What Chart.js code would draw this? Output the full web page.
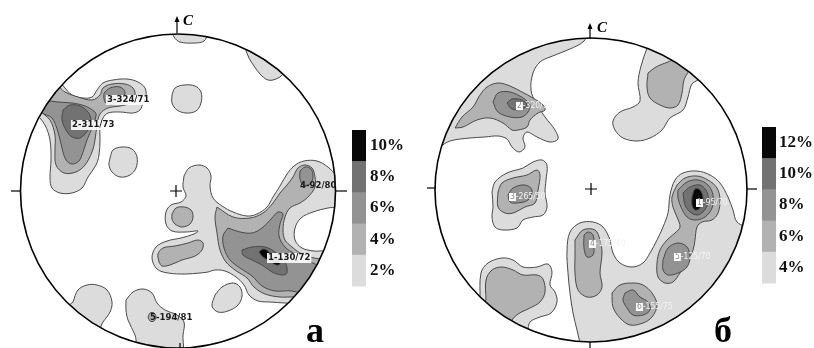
<!DOCTYPE html>
<html><head><meta charset="utf-8">
<script src="https://cdn.jsdelivr.net/npm/chart.js@4.4.1/dist/chart.umd.min.js"></script>
<style>html,body{margin:0;padding:0;background:#fff;}canvas{display:block;}</style>
</head><body>
<canvas id="c" width="814" height="348"></canvas>
<script>
// ---------- DATA (traced contour polygons, reference-pixel units: x right, y down) ----------
// Panel a: density levels 2%,4%,6%,8%,10%
const a_2pct = [
  [172,30, 174,37, 180,42, 195,43, 204,41, 207,34, 200,28],
  [245,48, 249,58, 254,66, 260,74, 268,80, 276,79, 283,74, 290,60, 265,45],
  [172,95, 175,88, 184,85, 195,86, 201,92, 201,103, 196,111, 186,113, 177,110, 172,103],
  [110,158, 113,150, 122,147, 132,149, 137,157, 136,168, 130,175, 120,177, 112,172, 109,165],
  [50,75, 58,80, 65,88, 72,95, 83,98, 92,97, 97,90, 103,83, 113,80, 127,79, 138,82, 145,88, 146,97, 143,103, 140,110, 133,113, 120,112, 108,113, 103,118, 100,128, 100,140, 99,155, 96,165, 88,177, 82,188, 72,193, 60,193, 52,188, 50,178, 51,160, 50,140, 45,125, 35,110, 35,90],
  [184,176, 189,168, 199,165, 207,168, 211,176, 210,186, 213,198, 222,206, 233,212, 247,216, 257,214, 267,207, 273,197, 280,186, 287,174, 294,166, 304,161, 317,161, 328,167, 336,175, 345,185, 345,205, 328,208, 313,212, 301,218, 295,228, 295,240, 302,248, 314,251, 330,252, 345,270, 325,305, 285,303, 270,302, 258,301, 249,295, 244,285, 236,277, 225,271, 215,270, 208,272, 200,273, 185,274, 168,273, 157,269, 152,258, 156,247, 167,241, 181,238, 194,234, 198,231, 186,232, 172,231, 166,224, 166,212, 171,205, 181,202, 186,196, 183,187],
  [215,295, 222,287, 233,283, 240,287, 242,296, 238,305, 228,311, 218,312, 212,306],
  [73,302, 78,290, 87,285, 97,285, 107,290, 112,302, 110,312, 103,322, 95,335, 65,310],
  [126,300, 133,292, 143,289, 152,293, 157,303, 165,310, 177,315, 184,322, 183,335, 181,352, 140,352, 135,335, 128,320, 126,310]
];
const a_4pct = [
  [38,92, 55,85, 65,92, 78,97, 92,100, 100,95, 103,88, 112,84, 125,84, 133,88, 135,95, 130,103, 120,106, 108,108, 100,114, 97,125, 95,140, 92,152, 85,165, 76,172, 64,173, 56,165, 55,150, 55,135, 50,120, 40,110],
  [172,214, 176,208, 184,207, 191,210, 193,217, 190,224, 182,227, 175,224, 172,219],
  [159,262, 158,254, 163,248, 175,246, 188,243, 198,240, 203,243, 202,250, 195,256, 182,260, 170,265, 162,266],
  [217,207, 233,217, 250,218, 263,213, 273,203, 280,193, 287,185, 293,177, 298,168, 305,165, 312,168, 315,177, 315,187, 308,197, 300,203, 290,208, 285,217, 283,230, 285,240, 292,247, 300,253, 310,257, 320,259, 340,262, 330,300, 295,297, 280,297, 265,294, 254,287, 247,278, 235,270, 226,262, 220,250, 217,233, 215,217],
  [148,317, 150,313, 154,313, 156,317, 154,321, 150,321]
];
const a_6pct = [
  [44,100, 58,102, 72,103, 85,106, 95,112, 96,116, 92,128, 87,140, 83,152, 79,161, 72,164, 66,160, 62,148, 58,132, 52,118, 42,112],
  [104,93, 110,88, 120,87, 125,92, 122,99, 115,104, 107,104, 104,99],
  [228,228, 240,232, 252,233, 262,228, 272,218, 278,212, 283,214, 280,224, 279,236, 285,247, 295,254, 305,259, 318,265, 340,268, 330,300, 292,291, 275,291, 262,286, 252,276, 240,268, 230,260, 224,248, 223,236],
  [300,171, 305,167, 311,169, 313,177, 310,184, 303,185, 300,179]
];
const a_8pct = [
  [63,110, 70,105, 80,106, 88,112, 91,120, 89,128, 85,134, 80,138, 72,137, 66,130, 62,120],
  [242,250, 252,247, 265,247, 275,252, 285,262, 287,273, 282,275, 272,272, 262,265, 252,260, 243,255]
];
const a_10pct = [
  [259,252, 263,249, 268,251, 272,256, 278,260, 280,264, 276,265, 270,261, 263,257]
];
// Panel б: density levels 4%,6%,8%,10%,12%
const b_4pct = [
  [590,32, 583,42, 570,49, 550,57, 540,62, 533,73, 531,90, 536,103, 545,117, 555,130, 558,139, 550,142, 537,137, 527,132, 523,138, 525,147, 519,152, 512,147, 507,139, 498,136, 485,137, 470,138, 450,141, 430,150, 425,100, 480,40, 540,28],
  [647,48, 641,66, 638,83, 640,101, 633,107, 620,112, 613,121, 615,130, 623,138, 637,141, 650,138, 662,130, 670,118, 683,110, 688,97, 692,84, 702,76, 665,38],
  [492,192, 495,182, 507,173, 523,168, 533,162, 542,160, 547,165, 546,180, 545,193, 547,207, 543,215, 533,217, 523,220, 517,228, 503,230, 495,227, 492,217, 493,207],
  [480,300, 481,273, 488,263, 502,258, 513,260, 523,267, 537,267, 548,264, 552,272, 550,285, 555,292, 557,302, 551,313, 540,317, 530,322, 527,332, 515,350, 465,310],
  [582,352, 577,330, 573,313, 570,293, 568,273, 567,250, 570,232, 580,223, 593,222, 603,227, 610,240, 613,253, 620,263, 632,267, 643,263, 650,253, 657,240, 663,227, 668,213, 670,195, 675,180, 683,173, 697,171, 710,175, 720,183, 728,197, 733,210, 737,222, 752,232, 765,300, 650,365]
];
const b_6pct = [
  [455,128, 462,117, 473,107, 480,95, 487,87, 498,83, 510,86, 522,92, 533,98, 543,105, 545,110, 538,113, 530,120, 527,127, 518,130, 512,130, 503,123, 490,118, 477,120, 463,127],
  [648,73, 656,67, 668,62, 680,58, 690,66, 684,80, 682,93, 678,105, 670,108, 660,105, 650,98, 647,87],
  [498,192, 502,183, 513,178, 527,175, 537,170, 540,175, 538,190, 535,203, 525,207, 513,213, 505,213, 498,207],
  [486,300, 486,280, 492,270, 502,267, 513,270, 523,275, 537,275, 543,279, 545,292, 540,302, 530,308, 518,314, 512,320, 505,335, 475,312],
  [575,240, 583,230, 595,230, 600,240, 602,253, 600,273, 602,287, 597,295, 587,297, 578,290, 575,273, 575,257],
  [677,185, 685,178, 697,176, 708,180, 717,188, 720,200, 718,213, 712,220, 702,222, 697,227, 695,240, 693,250, 687,263, 680,273, 673,282, 665,283, 658,277, 657,263, 660,250, 667,240, 675,233, 680,227, 677,217, 673,207, 672,197],
  [612,293, 620,285, 633,283, 643,285, 652,293, 657,305, 652,317, 643,323, 630,325, 620,318, 613,307]
];
const b_8pct = [
  [493,102, 498,93, 510,92, 523,98, 530,105, 528,112, 522,117, 510,117, 498,112],
  [508,195, 513,188, 525,185, 532,190, 528,200, 517,203, 510,202],
  [584,235, 588,232, 593,235, 594,247, 593,255, 587,257, 584,248],
  [678,190, 687,182, 698,180, 708,185, 713,195, 712,208, 705,217, 695,220, 687,217, 681,207, 678,198],
  [663,260, 668,248, 678,243, 687,247, 690,257, 687,267, 678,273, 668,275, 663,270],
  [625,293, 633,290, 640,297, 648,302, 650,310, 643,315, 633,315, 627,308, 623,300]
];
const b_10pct = [
  [507,103, 512,99, 522,100, 527,105, 522,109, 512,109],
  [683,193, 690,187, 700,185, 707,192, 708,203, 703,212, 697,215, 690,212, 685,205]
];
const b_12pct = [
  [692,197, 695,189, 700,190, 703,198, 700,208, 695,210, 692,205]
];

// Pole labels (maxima) and their positions
const poleLabelsA = ['1-130/72','2-311/73','3-324/71','4-92/80','5-194/81'];
const polePosA    = [[268,258],[72,125],[107,100],[300,186],[150,318]];
const poleLabelsB = ['1-95/70','2-320/70','3-265/50','4-175/40','5-125/70','6-155/75'];
const polePosB    = [[697,203],[517,106],[510,197],[590,244],[675,257],[637,307]];

// Legend tick labels (top to bottom)
const legendLabelsA = ['10%','8%','6%','4%','2%'];
const legendLabelsB = ['12%','10%','8%','6%','4%'];

// ---------- STYLE / LAYOUT ----------
const levelColors = ['#dcdcdc','#b2b2b2','#939393','#727272','#080808'];
const panels = [
  {cx:178, cy:191, rx:157.5, ry:157, cross:[176,191], ticks:[[11,191,21,191],[336,191,347,191],[180,343,180,350]],
   arrow:[177,33,16], cLabel:[183,25], letter:'a', letterPos:[306,342],
   legend:{x:352, top:130, bottom:286, w:14, labelX:370}, legendLabels:legendLabelsA},
  {cx:591, cy:190, rx:156, ry:152, cross:[591,189], ticks:[[427,188,436,188],[747,189,757,189],[590,342,590,350]],
   arrow:[590,39,23], cLabel:[597,32], letter:'б', letterPos:[714,342],
   legend:{x:762, top:127, bottom:283, w:14, labelX:779}, legendLabels:legendLabelsB}
];

// ---------- BUILD DATASETS ----------
const datasets = [];
function addLevel(list, lvl) {
  list.forEach(flat => {
    const pts = [];
    for (let i = 0; i < flat.length; i += 2) pts.push({x: flat[i], y: flat[i+1]});
    pts.push({x: flat[0], y: flat[1]});
    datasets.push({
      data: pts, showLine: true, fill: 'shape',
      backgroundColor: levelColors[lvl], borderColor: '#4a4a4a', borderWidth: 1,
      pointRadius: 0, tension: 0.35, order: 10 - lvl
    });
  });
}
[a_2pct, a_4pct, a_6pct, a_8pct, a_10pct].forEach((l, i) => addLevel(l, i));
[b_4pct, b_6pct, b_8pct, b_10pct, b_12pct].forEach((l, i) => addLevel(l, i));

// ---------- DECORATION PLUGIN ----------
const decor = {
  id: 'stereoDecor',
  beforeDatasetsDraw(chart) {
    const ctx = chart.ctx, X = v => chart.scales.x.getPixelForValue(v), Y = v => chart.scales.y.getPixelForValue(v);
    ctx.save();
    ctx.beginPath();
    panels.forEach(p => {
      ctx.moveTo(X(p.cx + p.rx), Y(p.cy));
      ctx.ellipse(X(p.cx), Y(p.cy), X(p.cx + p.rx) - X(p.cx), Y(p.cy + p.ry) - Y(p.cy), 0, 0, Math.PI * 2);
    });
    ctx.clip();
  },
  afterDatasetsDraw(chart) {
    const ctx = chart.ctx, X = v => chart.scales.x.getPixelForValue(v), Y = v => chart.scales.y.getPixelForValue(v);
    ctx.restore();
    ctx.save();
    panels.forEach((p, pi) => {
      // circle
      ctx.strokeStyle = '#000'; ctx.lineWidth = 1.6;
      ctx.beginPath();
      ctx.ellipse(X(p.cx), Y(p.cy), X(p.cx + p.rx) - X(p.cx), Y(p.cy + p.ry) - Y(p.cy), 0, 0, Math.PI * 2);
      ctx.stroke();
      // ticks
      ctx.lineWidth = 1.2;
      p.ticks.forEach(t => { ctx.beginPath(); ctx.moveTo(X(t[0]), Y(t[1])); ctx.lineTo(X(t[2]), Y(t[3])); ctx.stroke(); });
      // center cross
      const [kx, ky] = p.cross;
      ctx.beginPath(); ctx.moveTo(X(kx - 6), Y(ky)); ctx.lineTo(X(kx + 6), Y(ky));
      ctx.moveTo(X(kx), Y(ky - 6)); ctx.lineTo(X(kx), Y(ky + 6)); ctx.stroke();
      // north arrow
      const [ax, ay0, ay1] = p.arrow;
      ctx.beginPath(); ctx.moveTo(X(ax), Y(ay0)); ctx.lineTo(X(ax), Y(ay1 + 4)); ctx.stroke();
      ctx.fillStyle = '#000';
      ctx.beginPath(); ctx.moveTo(X(ax), Y(ay1)); ctx.lineTo(X(ax - 2.5), Y(ay1 + 6)); ctx.lineTo(X(ax + 2.5), Y(ay1 + 6)); ctx.closePath(); ctx.fill();
      ctx.font = 'italic bold 15px "Liberation Serif", "DejaVu Serif", serif';
      ctx.textBaseline = 'alphabetic'; ctx.textAlign = 'left';
      ctx.fillText('C', X(p.cLabel[0]), Y(p.cLabel[1]));
      // panel letter
      ctx.font = 'bold 36px "Liberation Serif", "DejaVu Serif", serif';
      ctx.fillText(p.letter, X(p.letterPos[0]), Y(p.letterPos[1]));
      // legend
      const L = p.legend, n = p.legendLabels.length, h = (L.bottom - L.top) / n;
      for (let i = 0; i < n; i++) {
        ctx.fillStyle = levelColors[n - 1 - i];
        ctx.fillRect(X(L.x), Y(L.top + i * h), X(L.x + L.w) - X(L.x), Y(L.top + (i + 1) * h) - Y(L.top + i * h) + 0.5);
      }
      ctx.fillStyle = '#111';
      ctx.font = 'bold 17px "Liberation Serif", "DejaVu Serif", serif';
      ctx.textBaseline = 'middle';
      p.legendLabels.forEach((t, i) => ctx.fillText(t, X(L.labelX), Y(L.top + (i + 0.5) * h)));
    });
    // pole labels panel a
    ctx.font = 'bold 9.5px "Liberation Sans Narrow", "DejaVu Sans Condensed", sans-serif';
    ctx.textBaseline = 'middle'; ctx.textAlign = 'left';
    poleLabelsA.forEach((t, i) => {
      const x = X(polePosA[i][0]), y = Y(polePosA[i][1]);
      const w = ctx.measureText(t).width;
      if (i < 3) { ctx.fillStyle = 'rgba(255,255,255,0.9)'; ctx.fillRect(x - 1, y - 5, w + 2, 10); }
      ctx.fillStyle = '#1a1a1a'; ctx.fillText(t, x, y);
    });
    // pole labels panel б
    ctx.font = '8.5px "Liberation Sans Narrow", "DejaVu Sans Condensed", sans-serif';
    poleLabelsB.forEach((t, i) => {
      const x = X(polePosB[i][0]), y = Y(polePosB[i][1]);
      const num = t.split('-')[0], rest = t.slice(num.length);
      const wn = ctx.measureText(num).width;
      ctx.fillStyle = '#fff'; ctx.fillRect(x - 1, y - 4, wn + 2, 8);
      ctx.fillStyle = '#888'; ctx.fillText(num, x, y);
      ctx.fillStyle = '#f4f4f4'; ctx.fillText(rest, x + wn + 1, y);
    });
    ctx.restore();
  }
};

new Chart(document.getElementById('c'), {
  type: 'scatter',
  data: { datasets },
  options: {
    responsive: false, animation: false, events: [],
    layout: { padding: 0 },
    scales: {
      x: { type: 'linear', min: 0, max: 814, display: false },
      y: { type: 'linear', min: 0, max: 348, reverse: true, display: false }
    },
    plugins: { legend: { display: false }, tooltip: { enabled: false } }
  },
  plugins: [decor]
});
</script>
</body></html>
